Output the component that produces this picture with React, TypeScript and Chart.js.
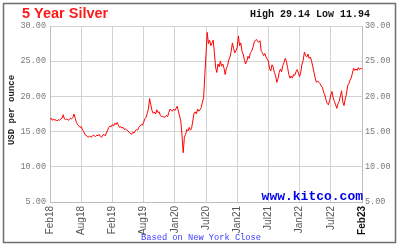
import React, { useEffect, useRef } from "react";
import Chart from "chart.js/auto";

const TITLE = "5 Year Silver";
const HIGH_LOW = "High 29.14 Low 11.94";
const SITE = "www.kitco.com";
const FOOTNOTE = "Based on New York Close";
const Y_TITLE = "USD per ounce";

// x tick labels, every 26 weeks
const xTickLabels = ["Feb18", "Aug18", "Feb19", "Aug19", "Jan20", "Jul20", "Jan21", "Jul21", "Jan22", "Jul22", "Feb23"];
const xTickWeeks = [0, 26, 52, 78, 104, 130, 156, 182, 208, 234, 260];
const yTicks = [5, 10, 15, 20, 25, 30];

// weekly silver close, USD per ounce (Feb 2018 .. Feb 2023)
const silverWeekly = [
  16.7, 16.9, 16.6, 16.8, 16.6, 16.7, 16.5, 16.7, 16.6, 16.8,
  16.9, 17.4, 16.8, 16.7, 16.8, 16.6, 16.7, 16.9, 16.8, 17.0,
  17.5, 16.9, 16.3, 16.0, 15.8, 15.6, 15.7, 15.3, 15.0, 14.6,
  14.5, 14.3, 14.2, 14.4, 14.2, 14.3, 14.5, 14.4, 14.3, 14.5,
  14.4, 14.6, 14.3, 14.2, 14.5, 14.6, 14.4, 14.8, 15.2, 15.6,
  15.8, 15.7, 16.0, 15.8, 16.2, 16.0, 16.3, 15.9, 15.6, 15.7,
  15.5, 15.6, 15.3, 15.4, 15.2, 15.1, 14.9, 14.8, 14.6, 14.9,
  14.8, 15.1, 15.3, 15.2, 15.6, 15.8, 16.0, 15.9, 16.3, 16.8,
  17.0, 17.6, 18.2, 19.7, 18.8, 18.0, 17.6, 17.8, 17.5, 18.1,
  17.7, 17.8, 17.3, 17.1, 17.2, 17.0, 17.1, 17.3, 17.1, 17.7,
  18.2, 18.0, 17.9, 18.2, 18.0, 18.3, 18.6, 17.9, 17.2, 16.5,
  14.5, 12.0, 14.2, 14.6, 15.3, 15.1, 15.6, 15.2, 15.5, 16.5,
  17.6, 17.8, 17.5, 18.2, 17.9, 18.1, 18.4, 19.2, 19.8, 23.0,
  26.0, 29.1, 27.5, 28.0, 27.2, 27.6, 28.0, 26.2, 24.1, 23.4,
  24.6, 24.2, 25.0, 24.3, 24.6, 24.0, 23.1, 24.0, 24.4, 25.2,
  25.6, 26.4, 27.6, 26.8, 26.2, 26.5, 27.0, 28.6, 27.2, 27.6,
  26.4, 26.0, 25.2, 24.6, 25.0, 25.7, 25.4, 26.2, 26.4, 26.9,
  27.6, 27.9, 28.1, 27.8, 27.7, 27.9, 26.4, 26.2, 25.8, 26.1,
  25.6, 25.3, 25.0, 23.9, 23.6, 24.5, 24.2, 23.4, 22.9, 22.0,
  22.5, 23.4, 23.9, 23.5, 24.4, 24.8, 25.4, 25.0, 24.1, 23.1,
  22.6, 22.9, 22.6, 23.1, 23.0, 23.5, 23.8, 23.3, 22.8, 23.5,
  24.6, 25.1, 26.3, 25.8, 25.6, 26.0, 25.4, 25.6, 25.0, 24.2,
  23.4, 22.6, 22.0, 22.2, 22.0, 21.8, 21.5, 21.3, 20.6, 20.2,
  19.5, 19.0, 18.8, 19.4, 20.2, 20.7, 19.8, 19.3, 18.8, 18.3,
  19.0, 19.3, 20.1, 20.8, 19.2, 18.7, 19.6, 20.3, 21.5, 21.8,
  22.3, 22.6, 23.3, 24.0, 23.7, 23.9, 23.7, 24.1, 23.8, 24.0,
  23.9,
];

const W = 399;
const H = 246;

const textPlugin = {
  id: "kitcoText",
  afterDraw(chart: any) {
    const ctx = chart.ctx as CanvasRenderingContext2D;
    const area = chart.chartArea;
    ctx.save();
    // outer frame
    ctx.strokeStyle = "#6e6e6e";
    ctx.lineWidth = 1.5;
    ctx.strokeRect(3.5, 3.5, W - 7, H - 7);

    ctx.textBaseline = "middle";
    // title
    ctx.fillStyle = "#ff1a1a";
    ctx.font = "bold 14.5px 'Liberation Sans', Arial, sans-serif";
    ctx.textAlign = "left";
    ctx.fillText(TITLE, 22, 14);

    // high / low
    ctx.fillStyle = "#111";
    ctx.font = "bold 10px 'Liberation Mono', 'DejaVu Sans Mono', monospace";
    ctx.textAlign = "right";
    ctx.fillText(HIGH_LOW, 370, 14);

    // site
    ctx.fillStyle = "#0000ee";
    ctx.font = "bold 13px 'Liberation Mono', 'DejaVu Sans Mono', monospace";
    ctx.textAlign = "right";
    ctx.fillText(SITE, area.right + 1, area.bottom - 5);

    // footnote
    ctx.fillStyle = "#3b3bff";
    ctx.font = "8.7px 'Liberation Mono', 'DejaVu Sans Mono', monospace";
    ctx.textAlign = "center";
    ctx.fillText(FOOTNOTE, 201, 238);

    // y title
    ctx.translate(12, 110);
    ctx.rotate(-Math.PI / 2);
    ctx.fillStyle = "#222";
    ctx.font = "bold 9px 'Liberation Mono', 'DejaVu Sans Mono', monospace";
    ctx.textAlign = "center";
    ctx.fillText(Y_TITLE, 0, 0);
    ctx.restore();
  },
};

export default function App() {
  const ref = useRef<HTMLCanvasElement | null>(null);

  useEffect(() => {
    if (!ref.current) return;
    const yTickFont = { family: "'Liberation Mono', 'DejaVu Sans Mono', monospace", size: 8.5 };
    const gridColor = "#d2d2d2";
    const chart = new Chart(ref.current, {
      type: "line",
      data: {
        datasets: [
          {
            data: silverWeekly.map((v, i) => ({ x: i, y: v })),
            borderColor: "#ff0000",
            borderWidth: 1,
            pointRadius: 0,
            tension: 0,
            fill: false,
          },
        ],
      },
      options: {
        animation: false,
        responsive: false,
        maintainAspectRatio: false,
        layout: { padding: { top: 26, left: 0, right: 0, bottom: 0 } },
        plugins: { legend: { display: false }, tooltip: { enabled: false }, title: { display: false } },
        scales: {
          x: {
            type: "linear",
            min: xTickWeeks[0],
            max: xTickWeeks[xTickWeeks.length - 1],
            afterBuildTicks: (scale: any) => {
              scale.ticks = xTickWeeks.map((v) => ({ value: v }));
            },
            afterFit: (scale: any) => {
              scale.height = 44;
            },
            grid: { color: gridColor, drawTicks: false, lineWidth: 1 },
            border: { display: true, color: "#bdbdbd" },
            ticks: {
              autoSkip: false,
              minRotation: 90,
              maxRotation: 90,
              padding: 4,
              color: (c: any) => (c.index === xTickLabels.length - 1 ? "#111" : "#555"),
              font: (c: any) => ({
                family: "'Liberation Sans', Arial, sans-serif",
                size: 10,
                weight: c.index === xTickLabels.length - 1 ? "bold" : "normal",
              }),
              callback: (_v: any, i: number) => xTickLabels[i],
            },
          },
          y: {
            position: "left",
            min: yTicks[0],
            max: yTicks[yTicks.length - 1],
            afterBuildTicks: (scale: any) => {
              scale.ticks = yTicks.map((v) => ({ value: v }));
            },
            afterFit: (scale: any) => {
              scale.width = 50;
            },
            grid: { color: gridColor, drawTicks: false },
            border: { display: true, color: "#bdbdbd" },
            ticks: {
              padding: 4,
              color: "#7a7a7a",
              font: yTickFont,
              callback: (v: any) => Number(v).toFixed(2),
            },
          },
          y2: {
            position: "right",
            min: yTicks[0],
            max: yTicks[yTicks.length - 1],
            afterBuildTicks: (scale: any) => {
              scale.ticks = yTicks.map((v) => ({ value: v }));
            },
            afterFit: (scale: any) => {
              scale.width = 37;
            },
            grid: { display: false, drawTicks: false },
            border: { display: true, color: "#bdbdbd" },
            ticks: {
              padding: 3,
              color: "#7a7a7a",
              font: yTickFont,
              callback: (v: any) => Number(v).toFixed(2),
            },
          },
        },
      },
      plugins: [textPlugin],
    } as any);
    return () => chart.destroy();
  }, []);

  return (
    <div style={{ position: "absolute", left: 0, top: 0, width: W, height: H, background: "#fff" }}>
      <canvas ref={ref} width={W} height={H} style={{ display: "block", width: W, height: H }} />
    </div>
  );
}
